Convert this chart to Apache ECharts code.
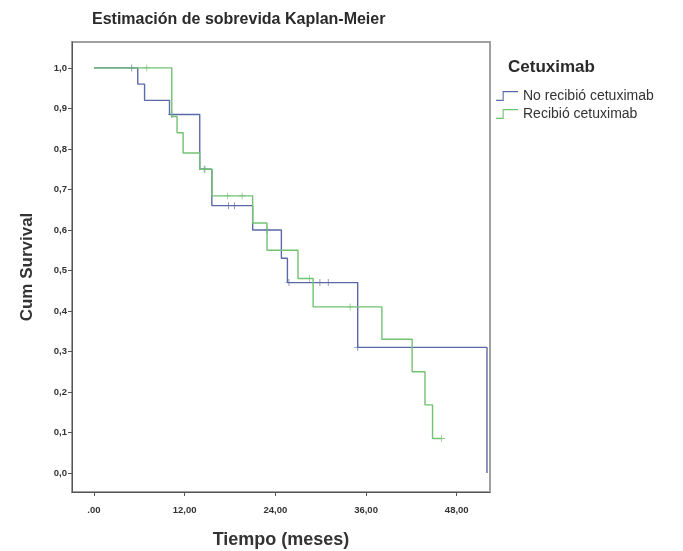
<!DOCTYPE html>
<html>
<head>
<meta charset="utf-8">
<script src="https://cdn.jsdelivr.net/npm/echarts@6/dist/echarts.min.js"></script>
<style>
  html, body { margin: 0; padding: 0; background: #fff; }
  #main { width: 683px; height: 551px; }
</style>
</head>
<body>
<div id="main"></div>
<script>
// curvas Kaplan-Meier (tiempo en meses, supervivencia acumulada)
var noTimes = [0, 5.8, 6.7, 10.0, 14.0, 15.6, 21.0, 24.8, 25.6, 34.9, 52.0, 52.0];
var noSurv  = [1.0, 0.96, 0.92, 0.885, 0.75, 0.66, 0.60, 0.53, 0.47, 0.31, 0.31, 0.0];
var noCensor = [5.0, 10.3, 14.6, 17.8, 18.6, 22.9, 25.8, 29.9, 31.0, 34.9];

var siTimes = [0, 10.3, 11.0, 11.8, 14.0, 15.6, 21.0, 22.9, 27.0, 29.0, 38.1, 42.1, 43.8, 44.8, 46.0];
var siSurv  = [1.0, 0.88, 0.84, 0.79, 0.75, 0.684, 0.617, 0.55, 0.48, 0.41, 0.33, 0.25, 0.168, 0.085, 0.085];
var siCensor = [7.0, 14.7, 17.7, 19.6, 28.5, 33.9, 46.0];

var xTicks = [0, 12, 24, 36, 48];
var xTickLabels = ['.00', '12,00', '24,00', '36,00', '48,00'];
var yTicks = [0, 0.1, 0.2, 0.3, 0.4, 0.5, 0.6, 0.7, 0.8, 0.9, 1.0];
var yTickLabels = ['0,0', '0,1', '0,2', '0,3', '0,4', '0,5', '0,6', '0,7', '0,8', '0,9', '1,0'];

var seriesNames = ['No recibió cetuximab', 'Recibió cetuximab'];
var colorNo = '#5b69a9';
var colorSi = '#72c272';

function pares(ts, ss) {
    return ts.map(function (t, i) { return [t, ss[i]]; });
}
// valor de la curva en el tiempo t (ultimo escalon antes de t)
function valorEn(ts, ss, t) {
    var v = ss[0];
    for (var i = 0; i < ts.length; i++) {
        if (ts[i] <= t) v = ss[i];
    }
    return v;
}
function censuras(ts, ss, cs) {
    return cs.map(function (t) { return [t, valorEn(ts, ss, t)]; });
}

var cruz = 'path://M-0.12,-1H0.12V1H-0.12Z M-1,-0.12H1V0.12H-1Z';
var iconoEscalon = 'path://M0,9H6V1H20V2H7V10H0Z';

var myChart = echarts.init(document.getElementById('main'));
myChart.setOption({
    animation: false,
    title: [
        {
            text: 'Estimación de sobrevida Kaplan-Meier',
            left: 87,
            top: 7,
            textStyle: { fontFamily: 'Liberation Sans', fontSize: 16, fontWeight: 'bold', color: '#2a2a2a' }
        },
        {
            text: 'Cetuximab',
            left: 503,
            top: 54,
            textStyle: { fontFamily: 'Liberation Sans', fontSize: 17, fontWeight: 'bold', color: '#2a2a2a' }
        }
    ],
    legend: {
        orient: 'vertical',
        left: 491,
        top: 84,
        itemWidth: 22,
        itemHeight: 11,
        itemGap: 4,
        data: [
            { name: seriesNames[0], icon: iconoEscalon },
            { name: seriesNames[1], icon: iconoEscalon }
        ],
        textStyle: { fontFamily: 'Liberation Sans', fontSize: 14, color: '#333' }
    },
    grid: {
        left: 72,
        top: 42,
        right: 193,
        bottom: 59,
        outerBoundsMode: 'none',
        containLabel: false,
        show: true,
        borderColor: '#a0a0a0',
        borderWidth: 2
    },
    xAxis: {
        type: 'value',
        min: -2.9,
        max: 52.4,
        name: 'Tiempo (meses)',
        nameLocation: 'middle',
        nameGap: 39,
        nameTextStyle: { fontFamily: 'Liberation Sans', fontSize: 18, fontWeight: 'bold', color: '#333' },
        splitLine: { show: false },
        axisLine: { show: true, onZero: false, lineStyle: { color: '#555', width: 1 } },
        axisTick: { show: true, length: 4, customValues: xTicks, lineStyle: { color: '#555' } },
        axisLabel: {
            customValues: xTicks,
            fontFamily: 'Liberation Sans',
            fontSize: 9.5,
            fontWeight: 'bold',
            color: '#333',
            margin: 13,
            formatter: function (v) {
                var i = xTicks.indexOf(v);
                return i >= 0 ? xTickLabels[i] : '';
            }
        }
    },
    yAxis: {
        type: 'value',
        min: -0.047,
        max: 1.064,
        name: 'Cum Survival',
        nameLocation: 'middle',
        nameGap: 36,
        nameTextStyle: { fontFamily: 'Liberation Sans', fontSize: 17, fontWeight: 'bold', color: '#333' },
        splitLine: { show: false },
        axisLine: { show: true, onZero: false, lineStyle: { color: '#555', width: 1 } },
        axisTick: { show: true, length: 4, customValues: yTicks, lineStyle: { color: '#555' } },
        axisLabel: {
            customValues: yTicks,
            fontFamily: 'Liberation Sans',
            fontSize: 9.5,
            fontWeight: 'bold',
            color: '#333',
            margin: 5,
            formatter: function (v) {
                for (var i = 0; i < yTicks.length; i++) {
                    if (Math.abs(yTicks[i] - v) < 1e-6) return yTickLabels[i];
                }
                return '';
            }
        }
    },
    series: [
        {
            name: seriesNames[0],
            type: 'line',
            step: 'end',
            symbol: 'none',
            color: colorNo,
            lineStyle: { width: 1.4, color: colorNo },
            data: pares(noTimes, noSurv)
        },
        {
            name: seriesNames[1],
            type: 'line',
            step: 'end',
            symbol: 'none',
            color: colorSi,
            lineStyle: { width: 1.4, color: colorSi },
            data: pares(siTimes, siSurv)
        },
        {
            name: 'censura no',
            type: 'scatter',
            symbol: cruz,
            symbolSize: 7,
            itemStyle: { color: colorNo },
            data: censuras(noTimes, noSurv, noCensor)
        },
        {
            name: 'censura si',
            type: 'scatter',
            symbol: cruz,
            symbolSize: 7,
            itemStyle: { color: colorSi },
            data: censuras(siTimes, siSurv, siCensor)
        }
    ]
});
</script>
</body>
</html>
